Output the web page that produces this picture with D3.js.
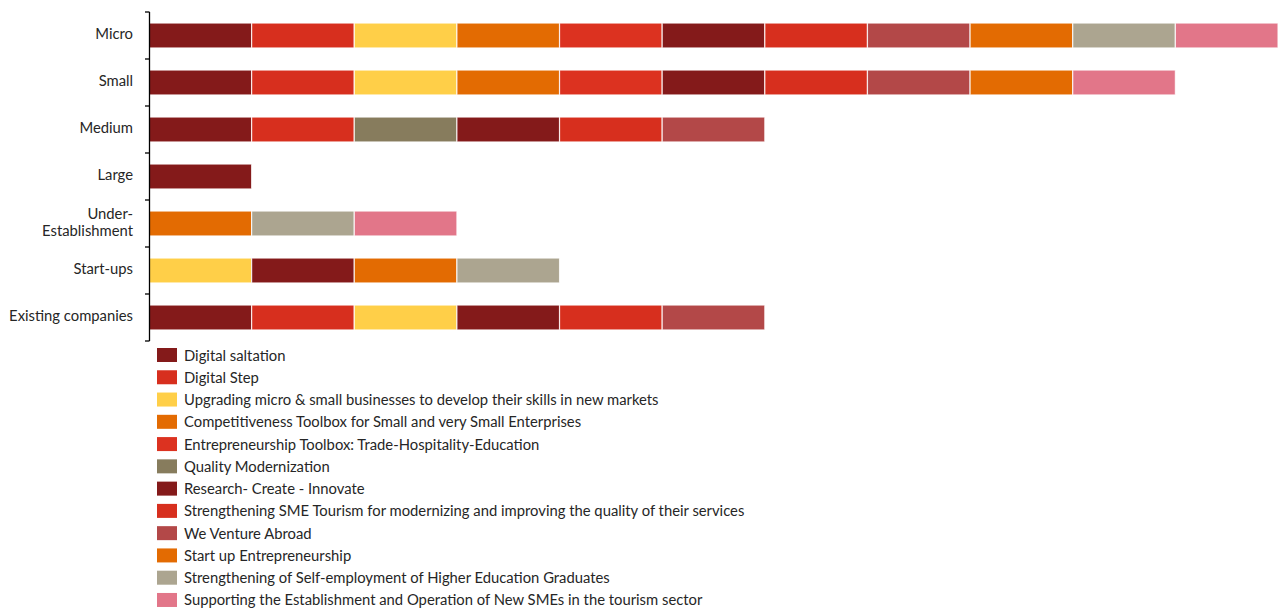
<!DOCTYPE html>
<html>
<head>
<meta charset="utf-8">
<script src="https://cdn.jsdelivr.net/npm/d3@7"></script>
<style>
   body { margin: 0; background: #fff; }
   svg text { font-family: Lato, "Open Sans", sans-serif; fill: #262626; }
</style>
</head>
<body>
<div id="chart"></div>
<script>
// Company categories, top to bottom
const categories = ["Micro", "Small", "Medium", "Large", "Under-Establishment", "Start-ups", "Existing companies"];

// Programmes in stacking order
const programmes = [
   "Digital saltation",
   "Digital Step",
   "Upgrading micro & small businesses to develop their skills in new markets",
   "Competitiveness Toolbox for Small and very Small Enterprises",
   "Entrepreneurship Toolbox: Trade-Hospitality-Education",
   "Quality Modernization",
   "Research- Create - Innovate",
   "Strengthening SME Tourism for modernizing and improving the quality of their services",
   "We Venture Abroad",
   "Start up Entrepreneurship",
   "Strengthening of Self-employment of Higher Education Graduates",
   "Supporting the Establishment and Operation of New SMEs in the tourism sector"
];

const colors = ["#841a1a", "#d72f1e", "#ffcf48", "#e36b02", "#dc3220", "#877c5d",
                "#841a1a", "#d72f1e", "#b34848", "#e36b02", "#aca590", "#e27689"];

// 1 = programme eligible for the category (values per category, same order as categories)
const eligibility = [
   [1, 1, 1, 1, 0, 0, 1],
   [1, 1, 1, 0, 0, 0, 1],
   [1, 1, 0, 0, 0, 1, 1],
   [1, 1, 0, 0, 0, 0, 0],
   [1, 1, 0, 0, 0, 0, 0],
   [0, 0, 1, 0, 0, 0, 0],
   [1, 1, 1, 0, 0, 1, 1],
   [1, 1, 1, 0, 0, 0, 1],
   [1, 1, 1, 0, 0, 0, 1],
   [1, 1, 0, 0, 1, 1, 0],
   [1, 0, 0, 0, 1, 1, 0],
   [1, 1, 0, 0, 1, 0, 0]
];

const width = 1286, height = 610;
const rows = categories.map((c, ci) => {
   const row = { category: c };
   programmes.forEach((p, pi) => row[p] = eligibility[pi][ci]);
   return row;
});

const series = d3.stack().keys(programmes)(rows);

const x = d3.scaleLinear().domain([0, 11]).range([149, 1278]);
const y = d3.scaleBand().domain(categories).range([12, 341]).paddingInner(0.47).paddingOuter(0.235);

const svg = d3.select("#chart").append("svg")
   .attr("width", width)
   .attr("height", height);

// Bars
svg.append("g")
   .selectAll("g")
   .data(series)
   .join("g")
   .attr("fill", (d, i) => colors[i])
   .selectAll("rect")
   .data(d => d.filter(s => s[1] > s[0]))
   .join("rect")
   .attr("x", d => x(d[0]))
   .attr("y", d => y(d.data.category))
   .attr("width", d => x(d[1]) - x(d[0]))
   .attr("height", y.bandwidth())
   .attr("stroke", "#fff")
   .attr("stroke-opacity", 0.8)
   .attr("stroke-width", 1.2);

// Vertical axis line with ticks at band boundaries
const axis = svg.append("g").attr("stroke", "#000").attr("stroke-width", 1.3);
axis.append("line")
   .attr("x1", 149.5).attr("x2", 149.5)
   .attr("y1", 12).attr("y2", 341);
const bounds = categories.map(c => y(c) - y.step() * y.paddingInner() / 2)
   .concat([341]);
bounds[0] = 12;
axis.selectAll(".tick")
   .data(bounds)
   .join("line")
   .attr("x1", 145).attr("x2", 149.5)
   .attr("y1", d => d).attr("y2", d => d);

// Category labels
const labels = svg.append("g")
   .attr("font-size", 14.8)
   .attr("text-anchor", "end");
categories.forEach(c => {
   const cy = y(c) + y.bandwidth() / 2;
   if (c === "Under-Establishment") {
      labels.append("text").attr("x", 133).attr("y", cy - 5).text("Under-");
      labels.append("text").attr("x", 133).attr("y", cy + 12).text("Establishment");
   } else {
      labels.append("text").attr("x", 133).attr("y", cy + 3).text(c);
   }
});

// Legend
const legend = svg.append("g")
   .selectAll("g")
   .data(programmes)
   .join("g")
   .attr("transform", (d, i) => `translate(157, ${355 + i * 22.27})`);
legend.append("rect")
   .attr("x", 0).attr("y", -7)
   .attr("width", 20).attr("height", 14)
   .attr("fill", (d, i) => colors[i]);
legend.append("text")
   .attr("x", 27).attr("y", 5.5)
   .attr("font-size", 14.8)
   .text(d => d);
</script>
</body>
</html>
